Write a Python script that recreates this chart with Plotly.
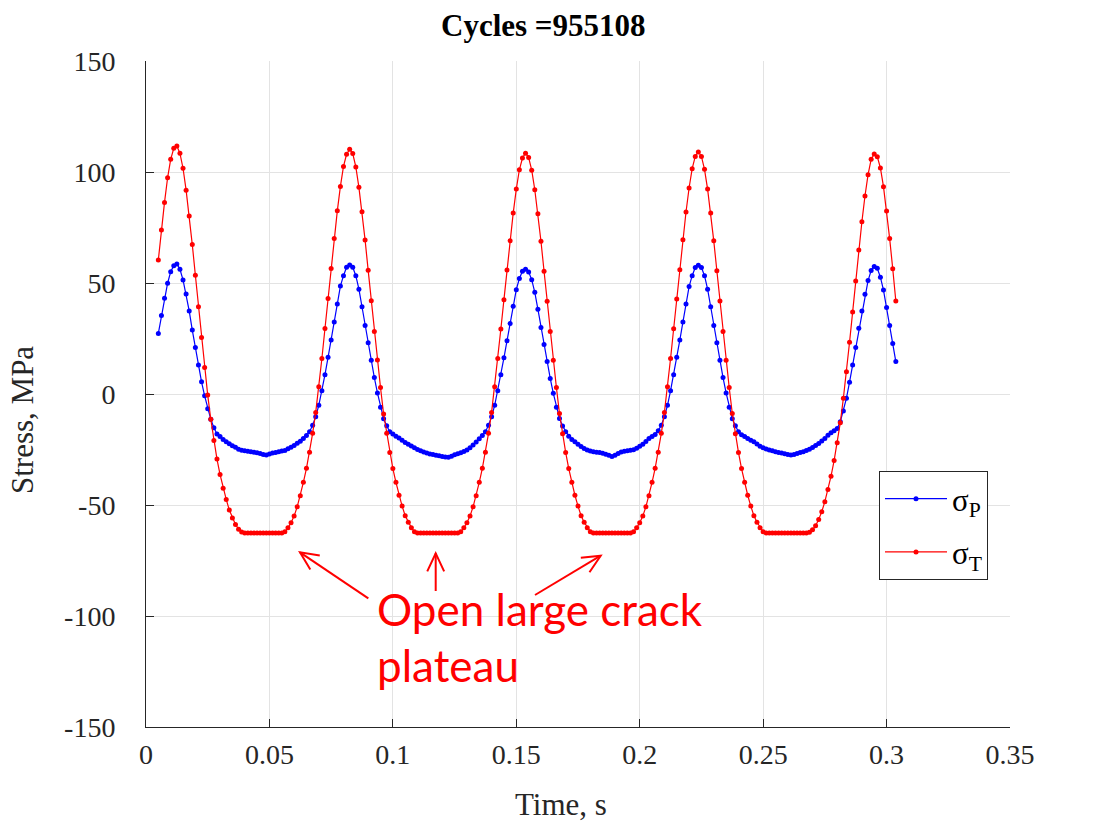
import math
import numpy as np
import plotly.graph_objects as go

# ---------------- data ----------------
t_start = 0.005      # s, first sample
dt = 0.00125         # s, sampling interval

sigma_P = [
    27.3, 35.4, 43.1, 49.9, 55.1, 57.8, 58.6, 56.2, 51.4, 45.0,
    37.4, 28.8, 20.9, 13.1, 5.5, -0.8, -6.6, -11.4, -15.2, -18.0,
    -19.2, -20.5, -21.5, -22.4, -23.3, -24.0, -24.9, -25.3, -25.6, -25.8,
    -26.0, -26.2, -26.5, -26.8, -27.3, -27.5, -27.0, -26.6, -26.3, -26.0,
    -25.7, -25.4, -24.7, -24.0, -23.2, -22.2, -21.3, -20.0, -18.7, -17.0,
    -14.1, -10.2, -5.1, 1.5, 8.7, 16.5, 24.3, 32.4, 40.5, 48.6,
    53.3, 57.1, 58.1, 57.1, 53.3, 47.2, 39.3, 30.9, 23.1, 15.2,
    7.4, 0.5, -6.0, -11.1, -14.3, -17.0, -18.0, -19.0, -19.8, -20.8,
    -21.8, -22.6, -23.4, -24.2, -25.0, -25.6, -26.1, -26.6, -27.0, -27.3,
    -27.6, -27.8, -28.1, -28.4, -28.5, -28.0, -27.4, -26.9, -26.5, -25.9,
    -25.2, -24.2, -23.0, -21.6, -20.2, -18.7, -17.0, -14.1, -10.2, -5.1,
    1.5, 8.7, 16.3, 24.0, 31.8, 39.5, 47.0, 52.0, 55.3, 56.2,
    55.0, 51.5, 45.8, 38.2, 30.0, 22.3, 14.6, 7.0, 0.3, -6.0,
    -11.0, -14.4, -17.0, -19.0, -20.5, -21.5, -22.6, -23.7, -24.6, -25.2,
    -25.7, -26.0, -26.2, -26.4, -26.7, -27.1, -27.6, -28.2, -27.6, -26.8,
    -26.1, -25.8, -25.6, -25.3, -25.1, -24.4, -23.5, -22.6, -21.4, -20.1,
    -19.2, -18.2, -16.5, -14.1, -10.2, -5.1, 1.5, 8.7, 16.5, 24.3,
    32.4, 40.5, 48.4, 53.3, 57.0, 58.0, 57.0, 53.3, 47.2, 39.3,
    30.9, 23.1, 15.2, 7.4, 0.5, -6.0, -11.1, -14.3, -17.0, -18.3,
    -19.2, -20.0, -20.8, -21.5, -22.5, -23.5, -24.2, -24.8, -25.2, -25.6,
    -26.0, -26.3, -26.6, -26.9, -27.3, -27.5, -27.2, -26.8, -26.4, -26.0,
    -25.5, -24.9, -24.1, -23.2, -22.3, -21.2, -20.0, -18.6, -17.4, -16.5,
    -15.5, -12.5, -7.7, -1.9, 5.3, 13.1, 21.0, 29.6, 37.4, 44.9,
    51.1, 55.6, 57.4, 56.6, 52.6, 46.8, 39.0, 30.8, 22.8, 14.6,
]

sigma_T = [
    60.4, 73.9, 86.3, 97.4, 105.7, 110.7, 111.7, 108.4, 101.7, 91.8,
    80.2, 67.3, 53.5, 39.3, 25.4, 11.9, -0.5, -11.4, -21.0, -29.3,
    -36.3, -42.5, -47.5, -52.3, -55.8, -58.8, -60.9, -62.2, -62.6, -62.6,
    -62.6, -62.6, -62.6, -62.6, -62.6, -62.6, -62.6, -62.6, -62.6, -62.6,
    -62.6, -62.0, -60.3, -58.0, -55.0, -50.8, -45.8, -39.8, -33.5, -26.2,
    -17.7, -8.3, 3.3, 16.0, 29.5, 43.0, 56.5, 70.0, 82.5, 93.5,
    102.5, 108.0, 110.2, 108.3, 102.3, 93.1, 82.1, 69.4, 55.7, 42.0,
    28.1, 15.3, 2.9, -9.0, -17.7, -26.3, -33.6, -39.8, -45.6, -50.5,
    -54.8, -57.8, -60.2, -62.0, -62.6, -62.6, -62.6, -62.6, -62.6, -62.6,
    -62.6, -62.6, -62.6, -62.6, -62.6, -62.6, -62.6, -62.6, -62.0, -60.3,
    -58.0, -55.0, -50.8, -45.8, -39.8, -33.5, -26.2, -17.7, -8.3, 3.3,
    16.0, 29.3, 42.5, 55.8, 69.0, 81.5, 92.3, 101.0, 106.3, 108.5,
    106.5, 100.8, 92.0, 81.2, 68.8, 55.3, 41.8, 28.2, 15.2, 2.9,
    -8.8, -17.9, -26.3, -33.6, -39.8, -45.6, -50.5, -54.8, -57.8, -60.2,
    -62.0, -62.6, -62.6, -62.6, -62.6, -62.6, -62.6, -62.6, -62.6, -62.6,
    -62.6, -62.6, -62.6, -62.6, -62.0, -60.3, -58.0, -55.0, -50.8, -45.8,
    -39.8, -33.5, -26.2, -17.7, -8.3, 3.3, 16.0, 29.4, 42.8, 56.0,
    69.5, 82.0, 92.8, 101.5, 107.0, 109.0, 107.0, 101.2, 92.3, 81.5,
    69.0, 55.5, 41.9, 28.2, 15.2, 2.9, -8.8, -17.9, -26.3, -33.6,
    -39.8, -45.6, -50.5, -54.8, -57.8, -60.2, -62.0, -62.6, -62.6, -62.6,
    -62.6, -62.6, -62.6, -62.6, -62.6, -62.6, -62.6, -62.6, -62.6, -62.6,
    -62.6, -62.3, -61.2, -59.3, -56.5, -53.0, -48.5, -43.0, -37.0, -30.0,
    -22.0, -12.9, -1.9, 10.0, 23.3, 36.9, 50.9, 64.9, 77.6, 89.2,
    98.8, 105.7, 108.1, 106.9, 101.8, 93.4, 82.4, 70.0, 56.4, 41.9,
]

x_tick_vals = [0, 0.05, 0.1, 0.15, 0.2, 0.25, 0.3, 0.35]
x_tick_text = ["0", "0.05", "0.1", "0.15", "0.2", "0.25", "0.3", "0.35"]
y_tick_vals = [-150, -100, -50, 0, 50, 100, 150]
y_tick_text = ["-150", "-100", "-50", "0", "50", "100", "150"]

title_text = "Cycles =955108"
x_label = "Time, s"
y_label = "Stress, MPa"
note_lines = ["Open large crack", "plateau"]

time_P = t_start + dt * np.arange(len(sigma_P))
time_T = t_start + dt * np.arange(len(sigma_T))

# ---------------- layout geometry ----------------
W, H = 1115, 836
L, R, T, B = 146, 1010, 61, 727
X_RANGE = [0, 0.35]
Y_RANGE = [-150, 150]

def px2data(px, py):
    x = X_RANGE[0] + (px - L) / (R - L) * (X_RANGE[1] - X_RANGE[0])
    y = Y_RANGE[1] - (py - T) / (B - T) * (Y_RANGE[1] - Y_RANGE[0])
    return x, y

SERIF = "Liberation Serif, Times New Roman, serif"
AX_COL = "#262626"

fig = go.Figure()
fig.add_trace(go.Scatter(
    x=time_P, y=sigma_P, mode="lines+markers", name="σ<sub>P</sub>",
    line=dict(color="#0000ff", width=1.2),
    marker=dict(color="#0000ff", size=5),
    legendgroup="p",
))
fig.add_trace(go.Scatter(
    x=time_T, y=sigma_T, mode="lines+markers", name="σ<sub>T</sub>",
    line=dict(color="#ff0000", width=1.2),
    marker=dict(color="#ff0000", size=5),
    legendgroup="t",
))

axis_common = dict(
    showgrid=True, gridcolor="#e3e3e3", gridwidth=1,
    showline=True, linecolor=AX_COL, linewidth=1, mirror=False,
    ticks="inside", ticklen=8, tickcolor=AX_COL, tickwidth=1,
    zeroline=False,
    tickfont=dict(family=SERIF, size=28, color=AX_COL),
)

fig.update_xaxes(range=X_RANGE, tickmode="array", tickvals=x_tick_vals,
                 ticktext=x_tick_text, ticklabelstandoff=2, **axis_common)
fig.update_yaxes(range=Y_RANGE, tickmode="array", tickvals=y_tick_vals,
                 ticktext=y_tick_text, ticklabelstandoff=24, **axis_common)

annotations = []
annotations.append(dict(
    text="<b>" + title_text + "</b>", xref="paper", yref="paper",
    x=(543 - L) / (R - L), y=(B - 25) / (B - T), xanchor="center", yanchor="middle",
    showarrow=False, font=dict(family=SERIF, size=31, color="black"),
))
annotations.append(dict(
    text=x_label, xref="paper", yref="paper",
    x=(561 - L) / (R - L), y=(B - 805) / (B - T), xanchor="center", yanchor="middle",
    showarrow=False, font=dict(family=SERIF, size=31, color=AX_COL),
))
annotations.append(dict(
    text=y_label, xref="paper", yref="paper", textangle=-90,
    x=(22 - L) / (R - L), y=(B - 420) / (B - T), xanchor="center", yanchor="middle",
    showarrow=False, font=dict(family=SERIF, size=31, color=AX_COL),
))
for txt, py in zip(note_lines, [609, 665]):
    nx, ny = px2data(375, py)
    annotations.append(dict(
        text=txt, x=nx, y=ny, xref="x", yref="y", xanchor="left", yanchor="middle",
        showarrow=False, font=dict(family="Lato, Carlito, sans-serif", size=44, color="#ff0000"),
    ))

# arrows (open V heads), defined in pixel space of the reference
arrows_px = [((368.3, 598.3), (300.0, 552.3)),
             ((435.7, 591.0), (435.7, 553.3)),
             ((535.0, 595.0), (600.7, 555.7))]
shapes = []
HEAD_LEN, HEAD_ANG = 20, math.radians(25)
for (tx, ty), (hx, hy) in arrows_px:
    ux, uy = tx - hx, ty - hy
    n = math.hypot(ux, uy)
    ux, uy = ux / n, uy / n
    pts = []
    for s in (1, -1):
        c, sn = math.cos(s * HEAD_ANG), math.sin(s * HEAD_ANG)
        rx, ry = ux * c - uy * sn, ux * sn + uy * c
        pts.append((hx + HEAD_LEN * rx, hy + HEAD_LEN * ry))
    a = px2data(tx, ty); h = px2data(hx, hy)
    p1 = px2data(*pts[0]); p2 = px2data(*pts[1])
    shapes.append(dict(type="path", xref="x", yref="y",
                       path=f"M {a[0]},{a[1]} L {h[0]},{h[1]}",
                       line=dict(color="#ff0000", width=2)))
    shapes.append(dict(type="path", xref="x", yref="y",
                       path=f"M {p1[0]},{p1[1]} L {h[0]},{h[1]} L {p2[0]},{p2[1]}",
                       line=dict(color="#ff0000", width=2)))

fig.update_layout(
    width=W, height=H,
    margin=dict(l=L, r=W - R, t=T, b=H - B, pad=0),
    paper_bgcolor="white", plot_bgcolor="white",
    showlegend=True,
    legend=dict(
        x=(879 - L) / (R - L), y=(B - 471) / (B - T), xanchor="left", yanchor="top",
        bgcolor="white", bordercolor=AX_COL, borderwidth=1,
        font=dict(family=SERIF, size=31, color="black"),
        tracegroupgap=10, itemwidth=62,
    ),
    annotations=annotations,
    shapes=shapes,
)

fig.write_html("out.html", config={"displayModeBar": False},
               post_script="document.body.style.margin='0px';document.body.style.overflow='hidden';")
